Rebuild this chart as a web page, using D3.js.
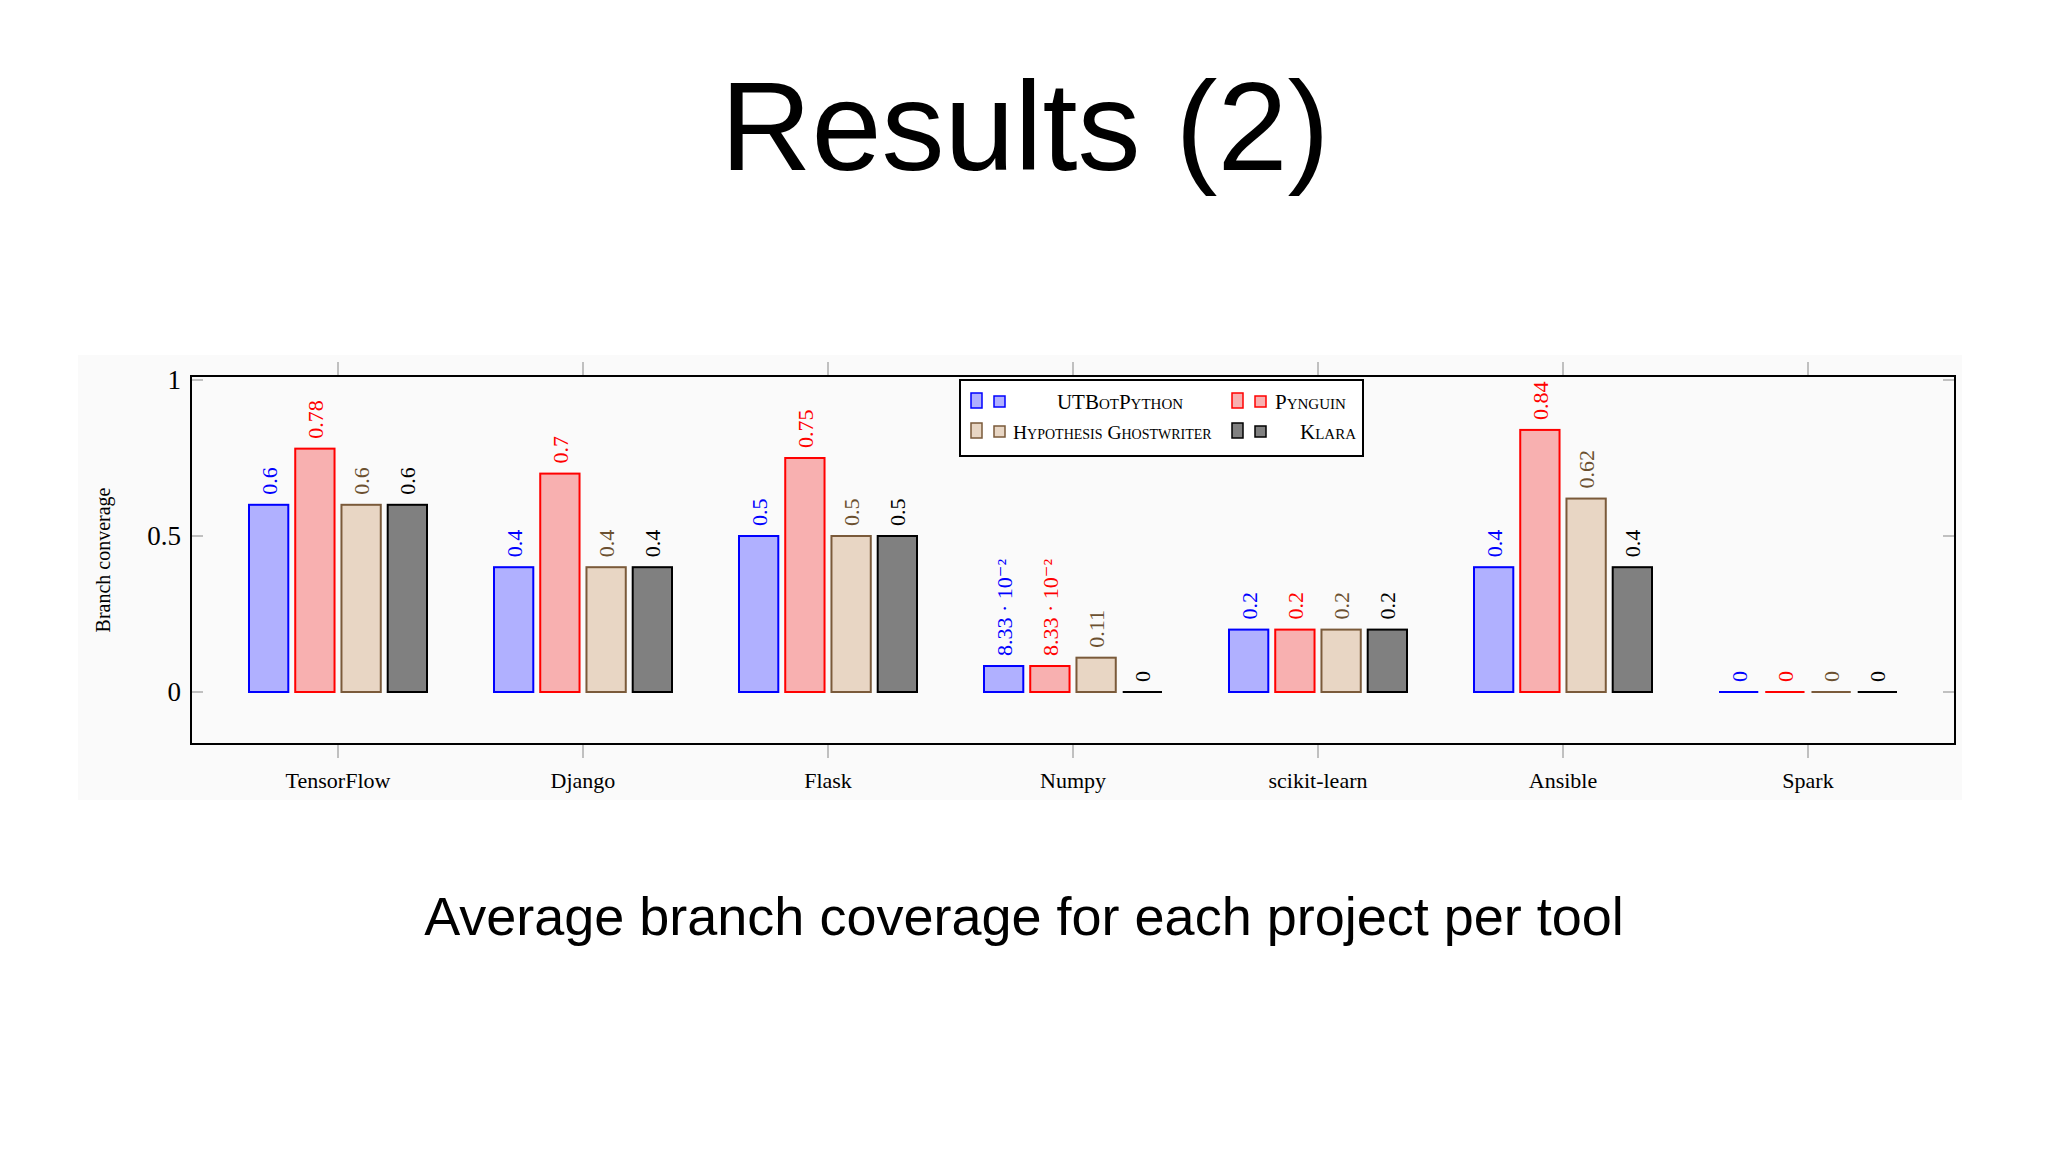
<!DOCTYPE html><html><head><meta charset="utf-8">
<script src="https://cdn.jsdelivr.net/npm/d3@7"></script>
<style>body{margin:0;background:#fff}</style></head><body>
<script>
const categories=["TensorFlow","Django","Flask","Numpy","scikit-learn","Ansible","Spark"];
const seriesNames=["UTBotPython","Pynguin","Hypothesis Ghostwriter","Klara"];
const utbot=[0.6,0.4,0.5,0.0833,0.2,0.4,0];
const pynguin=[0.78,0.7,0.75,0.0833,0.2,0.84,0];
const hypo=[0.6,0.4,0.5,0.11,0.2,0.62,0];
const klara=[0.6,0.4,0.5,0,0.2,0.4,0];
const valueLabels=[["0.6","0.4","0.5","8.33 · 10⁻²","0.2","0.4","0"],["0.78","0.7","0.75","8.33 · 10⁻²","0.2","0.84","0"],["0.6","0.4","0.5","0.11","0.2","0.62","0"],["0.6","0.4","0.5","0","0.2","0.4","0"]];
const yTicks=[0,0.5,1];
const series=[utbot,pynguin,hypo,klara];
const fills=["#b0b0ff","#f8b0b0","#e8d6c4","#808080"];
const strokes=["#0000ff","#ff0000","#7a5a3a","#000000"];
const textCols=["#0000ff","#ff0000","#6b5030","#000000"];

const svg=d3.select("body").append("svg").attr("width",2048).attr("height",1152);
svg.append("rect").attr("x",78).attr("y",355).attr("width",1884).attr("height",445).attr("fill","#fafafa");
svg.append("text").attr("x",1025).attr("y",170).attr("text-anchor","middle").attr("font-family","Liberation Sans, Arial").attr("font-size",126).text("Results (2)");
svg.append("text").attr("x",1024).attr("y",935).attr("text-anchor","middle").attr("font-family","Liberation Sans, Arial").attr("font-size",54).text("Average branch coverage for each project per tool");

const L=191,R=1955,T=376,B=744;
const x=d3.scalePoint().domain(categories).range([338,338+245*6]);
const y=d3.scaleLinear().domain([0,1]).range([692,380]);
const off=d3.scaleBand().domain(d3.range(4)).range([-89,89]).paddingInner(0.15);
const serif="Liberation Serif, DejaVu Serif, serif";

const g=svg.append("g").attr("stroke","#999").attr("stroke-width",1.2);
categories.forEach(c=>{g.append("line").attr("x1",x(c)).attr("x2",x(c)).attr("y1",T-14).attr("y2",T);
 g.append("line").attr("x1",x(c)).attr("x2",x(c)).attr("y1",B).attr("y2",B+14);});
yTicks.forEach(t=>{g.append("line").attr("x1",L).attr("x2",L+12).attr("y1",y(t)).attr("y2",y(t));
 g.append("line").attr("x1",R-12).attr("x2",R).attr("y1",y(t)).attr("y2",y(t));});
svg.append("rect").attr("x",L).attr("y",T).attr("width",R-L).attr("height",B-T).attr("fill","none").attr("stroke","#000").attr("stroke-width",2);

yTicks.forEach(t=>svg.append("text").attr("x",L-10).attr("y",y(t)+9).attr("text-anchor","end").attr("font-family",serif).attr("font-size",27).text(t));
categories.forEach(c=>svg.append("text").attr("x",x(c)).attr("y",788).attr("text-anchor","middle").attr("font-family",serif).attr("font-size",22).text(c));
svg.append("text").attr("transform","translate(110,560) rotate(-90)").attr("text-anchor","middle").attr("font-family",serif).attr("font-size",20).text("Branch converage");

series.forEach((s,si)=>{
 categories.forEach((c,ci)=>{
  const bx=x(c)+off(si), bw=off.bandwidth(), v=s[ci];
  if(v>0) svg.append("rect").attr("x",bx).attr("y",y(v)).attr("width",bw).attr("height",y(0)-y(v))
   .attr("fill",fills[si]).attr("stroke",strokes[si]).attr("stroke-width",2);
  else svg.append("line").attr("x1",bx).attr("x2",bx+bw).attr("y1",y(0)).attr("y2",y(0)).attr("stroke",strokes[si]).attr("stroke-width",2);
  svg.append("text").attr("transform",`translate(${bx+bw/2+8},${y(v)-10}) rotate(-90)`)
   .attr("font-family",serif).attr("font-size",22).attr("fill",textCols[si]).text(valueLabels[si][ci]);
 });
});

const lg=svg.append("g");
lg.append("rect").attr("x",960).attr("y",380).attr("width",403).attr("height",76).attr("fill","#fff").attr("stroke","#000").attr("stroke-width",2);
const lpos=[[971,1120,402],[1232,1275,402],[971,1013,432],[1232,1328,432]];
seriesNames.forEach((n,i)=>{
 const [sx,tx,ty]=lpos[i];
 lg.append("rect").attr("x",sx).attr("y",ty-9).attr("width",11).attr("height",15).attr("fill",fills[i]).attr("stroke",strokes[i]).attr("stroke-width",1.5);
 lg.append("rect").attr("x",sx+23).attr("y",ty-6).attr("width",11).attr("height",11).attr("fill",fills[i]).attr("stroke",strokes[i]).attr("stroke-width",1.5);
 lg.append("text").attr("x",tx).attr("y",ty+7).attr("text-anchor",i==0||i==3?"middle":"start")
  .attr("font-family",serif).attr("font-size",i==2?19.5:21).style("font-variant","small-caps").text(n);
});
</script></body></html>
